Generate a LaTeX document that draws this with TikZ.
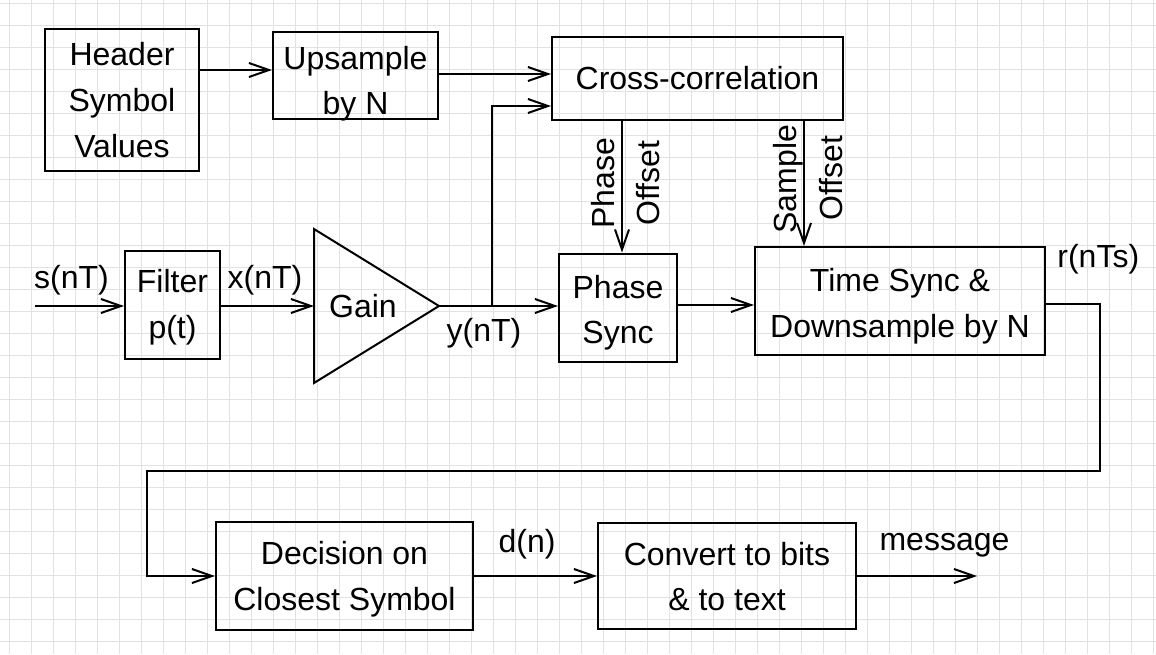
\documentclass[tikz,border=0pt]{standalone}
\usepackage{fontspec}
\setmainfont{Liberation Sans}
\usetikzlibrary{arrows.meta,calc}
\definecolor{gridc}{RGB}{226,226,226}
\begin{document}
\begin{tikzpicture}[x=1pt,y=-1pt,line width=2pt,
  every node/.style={font=\fontsize{32}{45.6}\selectfont,inner sep=0pt},
  blk/.style={draw,align=center,text depth=2pt},
  arr/.style={-{Straight Barb[length=20pt,width=14pt]}},
  lbl/.style={anchor=base}]
\useasboundingbox (0,0) rectangle (1156,654);
\fill[white] (0,0) rectangle (1156,654);
\foreach \i in {0,...,52} \draw[gridc,line width=1pt] (9.3+22*\i,0) -- (9.3+22*\i,654);
\foreach \j in {0,...,29} \draw[gridc,line width=1pt] (0,3.3+22*\j) -- (1156,3.3+22*\j);

% blocks
\node[blk,minimum width=154pt,minimum height=142pt,text height=116.1pt] (hdr) at (122,100) {Header\\Symbol\\Values};
\node[blk,minimum width=165pt,minimum height=87pt,text height=80.5pt] (ups) at (355.5,75.5) {Upsample\\by N};
\node[blk,minimum width=291pt,minimum height=83pt,text height=24.9pt] (cc) at (697.5,78.5) {Cross-correlation};
\node[blk,minimum width=95pt,minimum height=108pt,text height=68.5pt] (flt) at (172.5,305) {Filter\\p(t)};
\node[blk,minimum width=118pt,minimum height=108pt,text height=74.5pt] (ps) at (618,307.5) {Phase\\Sync};
\node[blk,minimum width=290pt,minimum height=108pt,text height=74.5pt] (ts) at (900,301) {Time Sync \&\\Downsample by N};
\node[blk,minimum width=257pt,minimum height=108pt,text height=70.5pt] (dec) at (344.5,576) {Decision on\\Closest Symbol};
\node[blk,minimum width=258pt,minimum height=106pt,text height=71.9pt] (cv) at (727,576) {Convert to bits\\\& to text};

% gain triangle
\coordinate (gT) at (314,229);
\coordinate (gB) at (314,383);
\coordinate (gR) at (439,306);
\coordinate (gL) at (314,306);
\draw (gT) -- (gR) -- (gB) -- cycle;
\node[lbl] (gain) at (363,317.7) {Gain};

% helper coordinates
\coordinate (sin) at (35,306);
\coordinate (h70) at (0,70);
\coordinate (u74) at (0,74);
\coordinate (br) at (492,306);
\coordinate (c106) at (0,106);
\coordinate (px) at (622,0);
\coordinate (sx) at (804,0);
\coordinate (c305) at (0,305);
\coordinate (c304) at (0,304);
\coordinate (r1) at (1100,471);
\coordinate (l1) at (147,471);
\coordinate (msg) at (977,576);

% connectors
\draw[arr] (hdr.east |- h70) -- (ups.west |- h70);
\draw[arr] (ups.east |- u74) -- (cc.west |- u74);
\draw[arr] (sin) -- (flt.west |- sin);
\draw[arr] (flt.east |- sin) -- (gL);
\draw[arr] (gR) -- (ps.west |- gR);
\draw[arr] (br) |- (cc.west |- c106);
\draw[arr] (cc.south -| px) -- (ps.north -| px);
\draw[arr] (cc.south -| sx) -- (ts.north -| sx);
\draw[arr] (ps.east |- c305) -- (ts.west |- c305);
\draw[arr] (ts.east |- c304) -| (r1) -- (l1) |- (dec.west);
\draw[arr] (dec.east) -- (cv.west);
\draw[arr] (cv.east) -- (msg);

% labels
\node[lbl] (ls) at (71.5,288.3) {s(nT)};
\node[lbl] (lx) at (265,288.3) {x(nT)};
\node[lbl] (ly) at (484,341.7) {y(nT)};
\node[lbl] (lr) at (1098.3,267.7) {r(nTs)};
\node[lbl] (ld) at (527,552) {d(n)};
\node[lbl] (lm) at (944.5,550) {message};
\node[lbl,rotate=90] (lp1) at (614,183.5) {Phase};
\node[lbl,rotate=90] (lp2) at (659,183) {Offset};
\node[lbl,rotate=90] (ls1) at (796.5,179.2) {Sample};
\node[lbl,rotate=90] (ls2) at (842,178.3) {Offset};
\end{tikzpicture}
\end{document}
